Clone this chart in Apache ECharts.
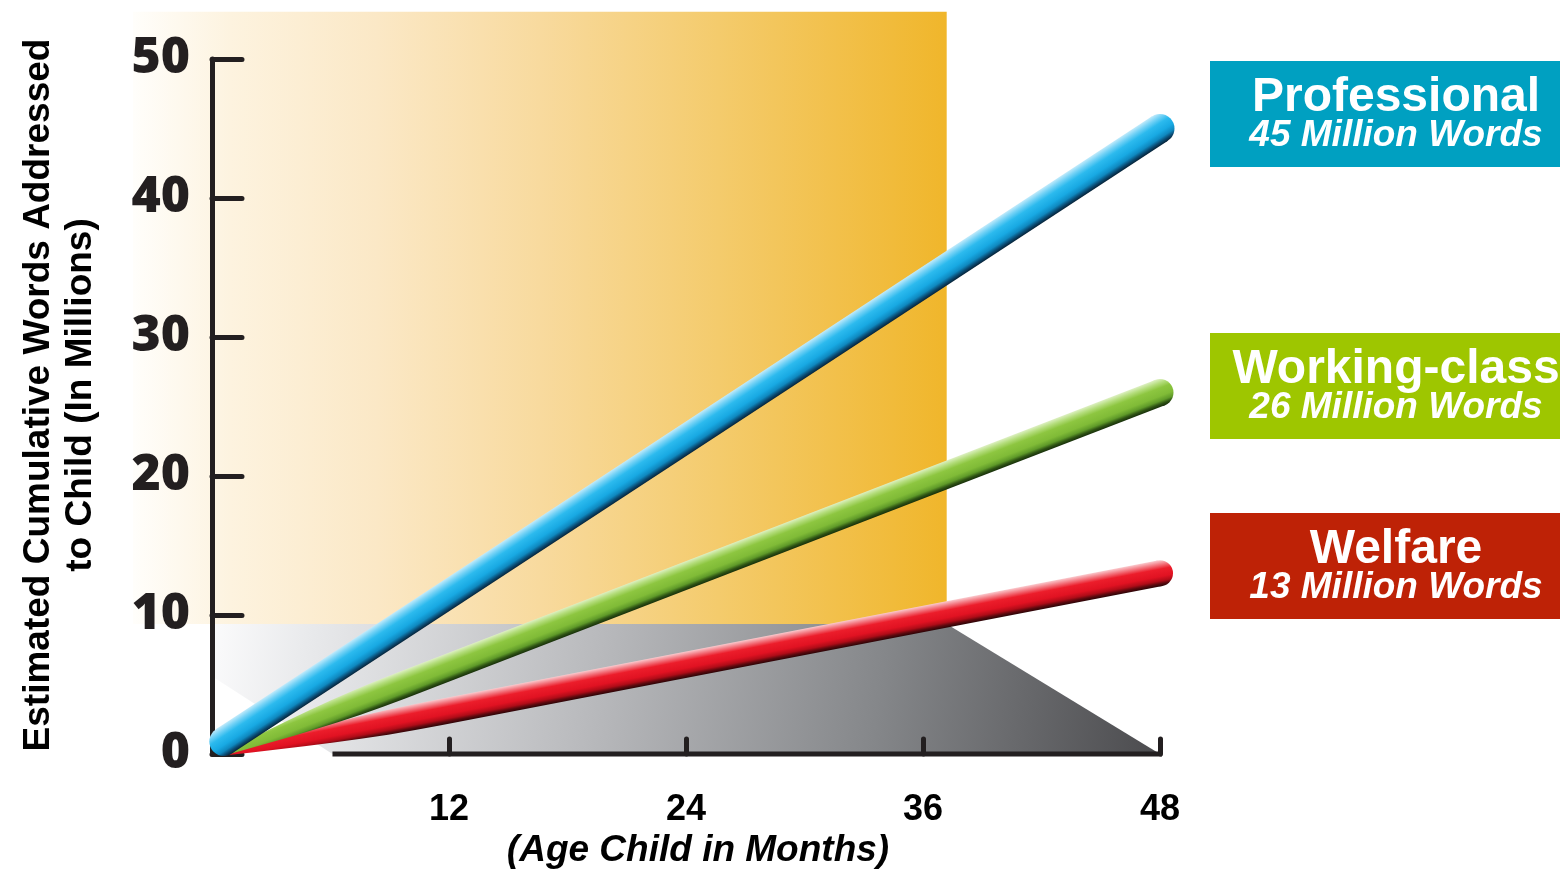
<!DOCTYPE html>
<html>
<head>
<meta charset="utf-8">
<script src="https://cdn.jsdelivr.net/npm/echarts@6/dist/echarts.min.js"></script>
<style>
  html, body { margin: 0; padding: 0; background: #ffffff; }
  #chart { width: 1560px; height: 870px; }
</style>
</head>
<body>
<div id="chart"></div>
<script>
// Age of the child (months) at the start and end of each line
const ages = [0.6, 48];

// Estimated cumulative words addressed to the child (millions)
const professional = [0.9, 45];
const workingClass = [0, 26];
const welfare = [0, 13];

const groupNames = ['Professional', 'Working-class', 'Welfare'];
const groupValues = [professional, workingClass, welfare];

const yAxisTitle = 'Estimated Cumulative Words Addressed\nto Child (In Millions)';
const xAxisTitle = '(Age Child in Months)';

const INK = '#231f20';

// Shading across each tube: highlight on top, shadow underneath
const tubeStyles = {
  'Professional': {
    width: 29, taper: 0,
    stops: [
      [0, '#bfeafb'], [0.16, '#74d2f6'], [0.34, '#2cbaee'], [0.6, '#18a9e3'],
      [0.78, '#0f88bf'], [0.9, '#0a4a72'], [1, '#062338']
    ]
  },
  'Working-class': {
    width: 27, taper: 190,
    stops: [
      [0, '#ddf0c2'], [0.16, '#b4dd7c'], [0.34, '#8dc640'], [0.62, '#80bb37'],
      [0.79, '#5f9a29'], [0.9, '#2f5414'], [1, '#18300a']
    ]
  },
  'Welfare': {
    width: 26, taper: 220,
    stops: [
      [0, '#fac9cd'], [0.16, '#f37780'], [0.34, '#ec1d2b'], [0.62, '#e11222'],
      [0.79, '#b00c18'], [0.9, '#5a090e'], [1, '#2a0406']
    ]
  }
};

function tubeRenderer(style) {
  return function (params, api) {
    const p0 = api.coord([api.value(0), api.value(1)]);
    const p1 = api.coord([api.value(2), api.value(3)]);
    const dx = p1[0] - p0[0], dy = p1[1] - p0[1];
    const len = Math.hypot(dx, dy);
    const ux = dx / len, uy = dy / len;
    const nx = uy, ny = -ux;              // normal pointing to the upper side
    const h = style.width / 2;
    const grad = new echarts.graphic.LinearGradient(
      p0[0] + nx * h, p0[1] + ny * h, p0[0] - nx * h, p0[1] - ny * h,
      style.stops.map(s => ({ offset: s[0], color: s[1] })), true);
    const children = [];
    let pts;
    if (style.taper > 0) {
      // tapered start: thin tip at the origin widening to the full tube
      const h0 = 1.5;
      const steps = 8;
      const upper = [], lower = [];
      for (let k = 0; k <= steps; k++) {
        const t = k / steps;
        const w = h0 + (h - h0) * Math.sin(t * Math.PI / 2);
        const px = p0[0] + ux * style.taper * t, py = p0[1] + uy * style.taper * t;
        upper.push([px + nx * w, py + ny * w]);
        lower.unshift([px - nx * w, py - ny * w]);
      }
      pts = upper.concat([[p1[0] + nx * h, p1[1] + ny * h], [p1[0] - nx * h, p1[1] - ny * h]], lower);
    } else {
      pts = [
        [p0[0] + nx * h, p0[1] + ny * h], [p1[0] + nx * h, p1[1] + ny * h],
        [p1[0] - nx * h, p1[1] - ny * h], [p0[0] - nx * h, p0[1] - ny * h]
      ];
      children.push({ type: 'circle', shape: { cx: p0[0], cy: p0[1], r: h }, style: { fill: grad } });
    }
    children.push({ type: 'polygon', shape: { points: pts }, style: { fill: grad } });
    children.push({ type: 'circle', shape: { cx: p1[0], cy: p1[1], r: h }, style: { fill: grad } });
    return { type: 'group', children: children };
  };
}

// Backdrop: warm panel behind the upper part, grey floor in perspective, and the x baseline
function backdropRenderer(params, api) {
  const c = (x, y) => api.coord([x, y]);
  const pTL = c(-4.0, 53.4), pBR = c(37.2, 9.35);
  const panel = {
    type: 'rect',
    shape: { x: pTL[0], y: pTL[1], width: pBR[0] - pTL[0], height: pBR[1] - pTL[1] },
    style: {
      fill: new echarts.graphic.LinearGradient(pTL[0], 0, pBR[0], 0, [
        { offset: 0, color: '#fffefb' }, { offset: 0.12, color: '#fdf3df' },
        { offset: 0.3, color: '#fbe8c6' }, { offset: 0.5, color: '#f8da9e' },
        { offset: 0.72, color: '#f4cb6c' }, { offset: 1, color: '#f0b62b' }
      ], true)
    }
  };
  const floorPts = [c(0, 9.35), c(37.2, 9.35), c(48, 0), c(6.1, 0), c(0, 5.6)];
  const fL = c(0, 0)[0], fR = c(48, 0)[0];
  const floor = {
    type: 'polygon',
    shape: { points: floorPts },
    style: {
      fill: new echarts.graphic.LinearGradient(fL, floorPts[0][1], fR, floorPts[2][1], [
        { offset: 0, color: '#fbfbfc' }, { offset: 0.1, color: '#e9eaec' },
        { offset: 0.4, color: '#b9babd' }, { offset: 0.7, color: '#85878a' },
        { offset: 1, color: '#4b4b4e' }
      ], true)
    }
  };
  const b0 = c(6.1, 0), b1 = c(48, 0);
  const baseline = {
    type: 'line',
    shape: { x1: b0[0], y1: b0[1], x2: b1[0] + 2, y2: b1[1] },
    style: { stroke: INK, lineWidth: 5 }
  };
  return { type: 'group', children: [panel, floor, baseline] };
}

const tubeSeries = ['Welfare', 'Working-class', 'Professional'].map((name, i) => {
  const vals = groupValues[groupNames.indexOf(name)];
  return {
    type: 'custom',
    name: name,
    z: 5 + i,
    clip: false,
    renderItem: tubeRenderer(tubeStyles[name]),
    encode: { x: [0, 2], y: [1, 3] },
    data: [[ages[0], vals[0], ages[1], vals[1]]]
  };
});

// Coloured key boxes on the right, one per group, with the 48-month totals
const boxColors = ['#00a0c1', '#9ec600', '#be2206'];
const boxTops = [61, 333, 513];
const keyBoxes = groupNames.map((name, i) => ({
  type: 'group',
  x: 1210, y: boxTops[i],
  children: [
    { type: 'rect', shape: { x: 0, y: 0, width: 350, height: 106 }, style: { fill: boxColors[i] } },
    {
      type: 'text', x: 186, y: 37,
      style: {
        text: name, fill: '#ffffff', align: 'center', verticalAlign: 'middle',
        fontFamily: '"Liberation Sans", Arial, sans-serif', fontWeight: 'bold', fontSize: 48
      }
    },
    {
      type: 'text', x: 186, y: 75,
      style: {
        text: groupValues[i][groupValues[i].length - 1] + ' Million Words',
        fill: '#ffffff', align: 'center', verticalAlign: 'middle',
        fontFamily: '"Liberation Sans", Arial, sans-serif', fontWeight: 'bold',
        fontStyle: 'italic', fontSize: 37
      }
    }
  ]
}));

const chart = echarts.init(document.getElementById('chart'), null, { renderer: 'canvas' });
chart.setOption({
  animation: false,
  backgroundColor: '#ffffff',
  grid: {
    left: 212, right: 400, top: 59, bottom: 116,
    containLabel: false, outerBoundsMode: 'none'
  },
  xAxis: {
    type: 'value', min: 0, max: 48, interval: 12, z: 1,
    axisLine: { show: false },
    splitLine: { show: false },
    axisTick: { show: true, inside: true, length: 15, lineStyle: { color: INK, width: 5, cap: 'round' } },
    axisLabel: {
      margin: 38, color: '#000000',
      fontFamily: '"Liberation Sans", Arial, sans-serif', fontWeight: 'bold', fontSize: 36,
      formatter: v => (v === 0 ? '' : String(v))
    }
  },
  yAxis: {
    type: 'value', min: 0, max: 50, interval: 10, z: 1,
    axisLine: { show: true, lineStyle: { color: INK, width: 5, cap: 'round' } },
    splitLine: { show: false },
    axisTick: { show: true, inside: true, length: 30, lineStyle: { color: INK, width: 5, cap: 'round' } },
    axisLabel: {
      margin: 22, color: INK, padding: [12, 0, 0, 0],
      fontFamily: '"Open Sans", "Liberation Sans", sans-serif', fontWeight: 800, fontSize: 50
    }
  },
  graphic: [
    {
      type: 'text', x: 60, y: 395, rotation: Math.PI / 2,
      style: {
        text: yAxisTitle, fill: '#000000', align: 'center', verticalAlign: 'middle', lineHeight: 42,
        fontFamily: '"Liberation Sans", Arial, sans-serif', fontWeight: 'bold', fontSize: 37
      }
    },
    {
      type: 'text', x: 698, y: 851,
      style: {
        text: xAxisTitle, fill: '#000000', align: 'center', verticalAlign: 'middle',
        fontFamily: '"Liberation Sans", Arial, sans-serif', fontWeight: 'bold', fontStyle: 'italic', fontSize: 37
      }
    }
  ].concat(keyBoxes),
  series: [
    {
      type: 'custom',
      name: 'backdrop',
      z: 0,
      clip: false,
      silent: true,
      renderItem: backdropRenderer,
      data: [[0, 0]]
    }
  ].concat(tubeSeries)
});
</script>
</body>
</html>
